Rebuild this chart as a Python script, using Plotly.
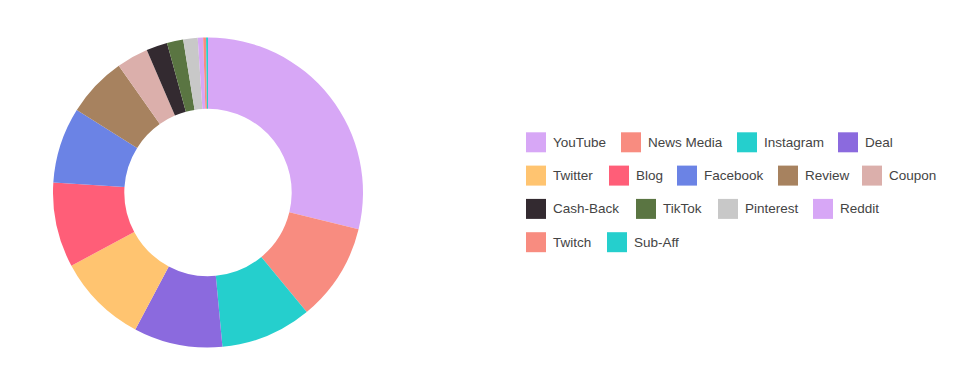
import plotly.graph_objects as go

labels = ["YouTube", "News Media", "Instagram", "Deal", "Twitter", "Blog", "Facebook",
          "Review", "Coupon", "Cash-Back", "TikTok", "Pinterest", "Reddit", "Twitch", "Sub-Aff"]
values = [288, 102, 95, 92.5, 94, 88.6, 79, 63, 33, 22, 17, 15, 5.6, 3, 2]
colors = ["#d7a7f6", "#f88c80", "#25cfcd", "#8b6ade", "#ffc470", "#ff5e78", "#6b83e5",
          "#a7825f", "#dbafab", "#332a30", "#5a7542", "#c8c8c8", "#d7a7f6", "#f88c80", "#25cfcd"]

W, H = 976, 390

# legend layout (pixel positions of each entry's swatch)
legend_x = [526, 621, 737, 838, 526, 609, 677, 778, 862, 526, 636, 718, 813, 526, 607]
legend_row = [0, 0, 0, 0, 1, 1, 1, 1, 1, 2, 2, 2, 2, 3, 3]
row_top0, row_step, sw = 132.3, 33.3, 20

cx, cy, r = 208, 192.5, 155

fig = go.Figure(go.Pie(
    labels=labels, values=values, sort=False, direction="clockwise", rotation=0,
    hole=0.54, textinfo="none", showlegend=False,
    marker=dict(colors=colors, line=dict(width=0)),
    domain=dict(x=[(cx - r) / W, (cx + r) / W], y=[(H - cy - r) / H, (H - cy + r) / H]),
))

shapes, annotations = [], []
for lab, col, lx, row in zip(labels, colors, legend_x, legend_row):
    top = row_top0 + row * row_step
    shapes.append(dict(type="rect", xref="paper", yref="paper",
                       x0=lx / W, x1=(lx + sw) / W,
                       y0=(H - top - sw) / H, y1=(H - top) / H,
                       fillcolor=col, line=dict(width=0)))
    annotations.append(dict(text=lab, xref="paper", yref="paper",
                            x=(lx + sw + 5) / W, y=(H - top - sw / 2) / H,
                            xanchor="left", yanchor="middle", showarrow=False,
                            font=dict(family="Liberation Sans, Arial, sans-serif", size=13.5, color="#444")))

fig.update_layout(
    width=W, height=H, margin=dict(l=0, r=0, t=0, b=0),
    paper_bgcolor="white", plot_bgcolor="white",
    shapes=shapes, annotations=annotations,
)

fig.write_html("out.html")
